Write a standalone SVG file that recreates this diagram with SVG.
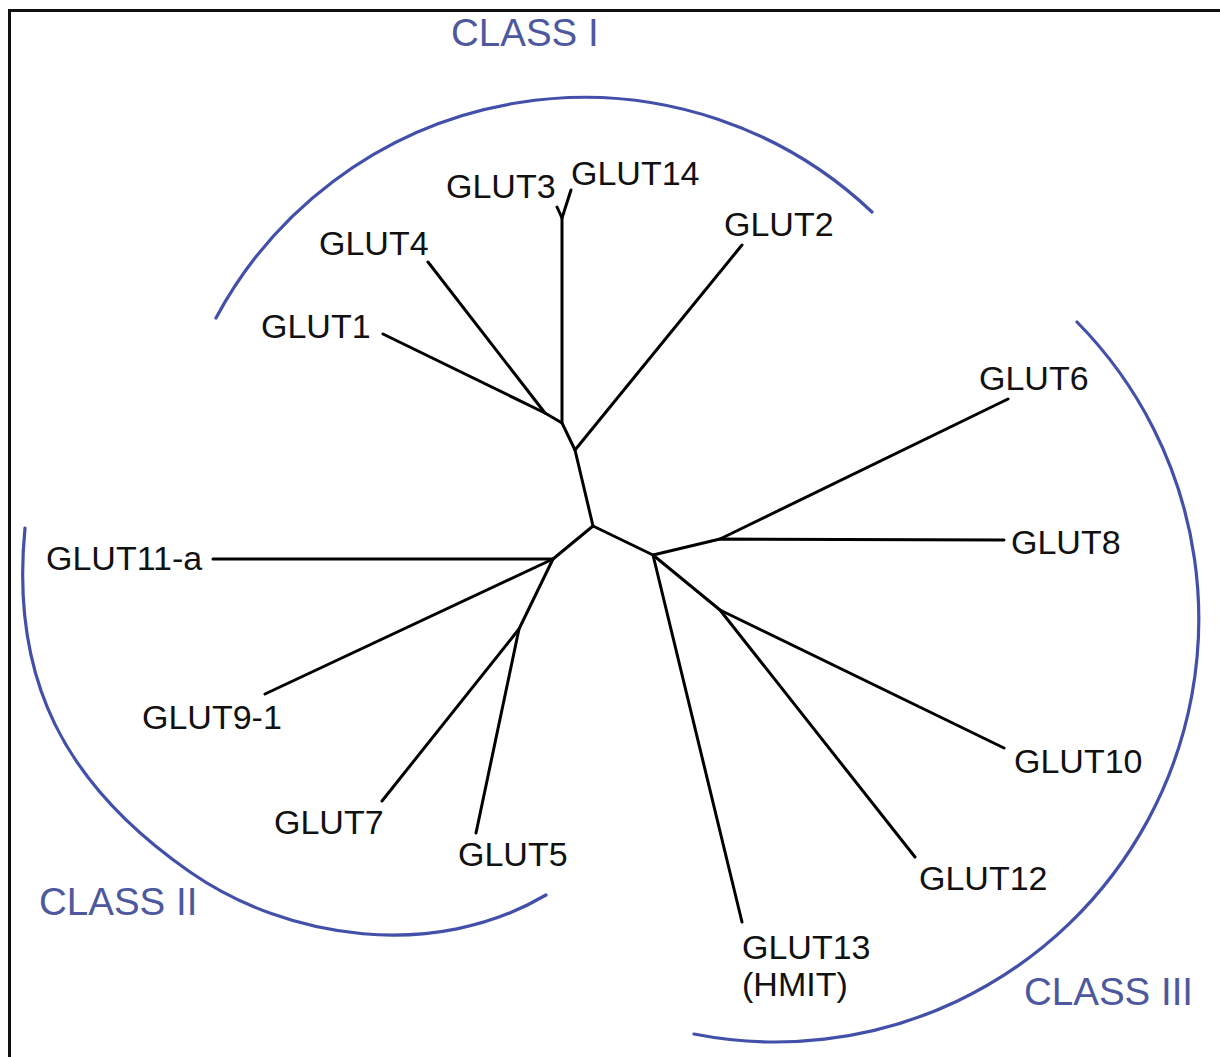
<svg xmlns="http://www.w3.org/2000/svg" width="1220" height="1057" viewBox="0 0 1220 1057">
<style>
.lbl{font-family:"Liberation Sans",Arial,sans-serif;font-size:34px;fill:#111}
.cls{font-family:"Liberation Sans",Arial,sans-serif;font-size:38.5px;fill:#4d589e}
.arc{fill:none;stroke:#4350aa;stroke-width:3.2;stroke-linecap:round}
.br{fill:none;stroke:#000;stroke-width:3;stroke-linecap:round;stroke-linejoin:round}
</style>
<rect width="1220" height="1057" fill="#fff"/>
<path d="M9.5 1057 V10.5 H1220" fill="none" stroke="#111" stroke-width="3"/>
<g id="classes">
<g id="class1"><path class="arc" d="M216 318 A418 418 0 0 1 872 212"/><text class="cls" x="451" y="46">CLASS I</text></g>
<g id="class2"><path class="arc" d="M25 528 C10 680 65 785 190 872 C288 940 434 961 546 895"/><text class="cls" x="39" y="915">CLASS II</text></g>
<g id="class3"><path class="arc" d="M1077 322 A423 423 0 0 1 694 1034"/><text class="cls" x="1024" y="1005">CLASS III</text></g>
</g>
<g id="connectors" class="br">
<path class="br" d="M593 526 L575 450 L562 423 L545 413 L383 334"/>
<path class="br" d="M545 413 L428 262"/>
<path class="br" d="M575 450 L742 245"/>
<path class="br" d="M562 423 L562 218 L557 207"/>
<path class="br" d="M562 218 L571 190"/>
<path class="br" d="M593 526 L553 559 L213 559"/>
<path class="br" d="M553 559 L265 694"/>
<path class="br" d="M553 559 L519 629 L382 801"/>
<path class="br" d="M519 629 L476 833"/>
<path class="br" d="M593 526 L653 555 L720 539 L1004 540"/>
<path class="br" d="M720 539 L1008 399"/>
<path class="br" d="M653 555 L742 922"/>
<path class="br" d="M653 555 L720 610 L1004 748"/>
<path class="br" d="M720 610 L915 857"/>
</g>
<g id="GLUT3"><text class="lbl" x="446" y="198">GLUT3</text></g>
<g id="GLUT14"><text class="lbl" x="571" y="185">GLUT14</text></g>
<g id="GLUT4"><text class="lbl" x="319" y="255">GLUT4</text></g>
<g id="GLUT2"><text class="lbl" x="724" y="236">GLUT2</text></g>
<g id="GLUT1"><text class="lbl" x="261" y="338">GLUT1</text></g>
<g id="GLUT6"><text class="lbl" x="979" y="390">GLUT6</text></g>
<g id="GLUT8"><text class="lbl" x="1011" y="554">GLUT8</text></g>
<g id="GLUT11a"><text class="lbl" x="46" y="570">GLUT11-a</text></g>
<g id="GLUT9-1"><text class="lbl" x="142" y="729">GLUT9-1</text></g>
<g id="GLUT7"><text class="lbl" x="274" y="834">GLUT7</text></g>
<g id="GLUT5"><text class="lbl" x="458" y="866">GLUT5</text></g>
<g id="GLUT10"><text class="lbl" x="1014" y="773">GLUT10</text></g>
<g id="GLUT12"><text class="lbl" x="919" y="890">GLUT12</text></g>
<g id="GLUT13"><text class="lbl" x="742" y="959">GLUT13</text><text class="lbl" x="742" y="996">(HMIT)</text></g>
</svg>
